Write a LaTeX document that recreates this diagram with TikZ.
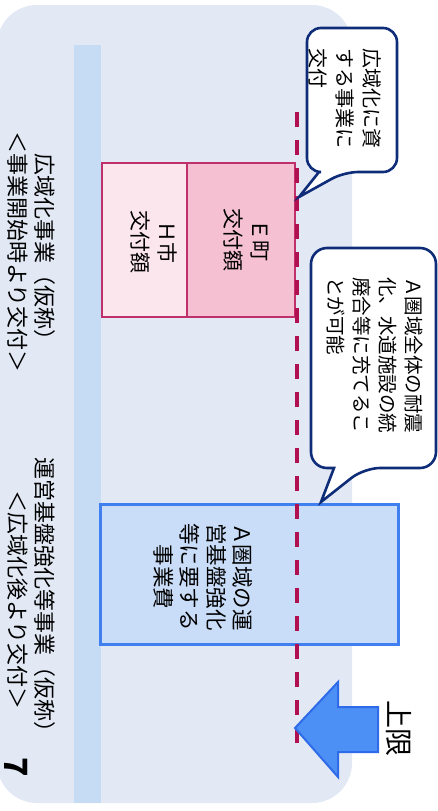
\documentclass[tikz,border=0pt]{standalone}
\usepackage{fontspec}
\setmainfont{Noto Sans CJK JP}
\definecolor{bgblue}{HTML}{E2E9F5}
\definecolor{barblue}{HTML}{C6DCF5}
\definecolor{boxblue}{HTML}{C9DDF8}
\definecolor{boxedge}{HTML}{3F7FF0}
\definecolor{arrowfill}{HTML}{4D90F5}
\definecolor{arrowedge}{HTML}{2F6BE8}
\definecolor{pinkedge}{HTML}{C0306A}
\definecolor{dashred}{HTML}{B01050}
\definecolor{hfill}{HTML}{FBE6EE}
\definecolor{efill}{HTML}{F4C0D2}
\definecolor{navy}{HTML}{0E2C78}
\tikzset{
  vtext/.style={rotate=-90, inner sep=0pt, text=black},
  callout/.style={draw=navy, line width=2.6pt, fill=white},
  pinkcell/.style={draw=pinkedge, line width=2pt},
  limitline/.style={draw=dashred, line width=4.5pt, dash pattern=on 15pt off 13pt},
}
\begin{document}
\begin{tikzpicture}[x=1pt,y=-1pt]
\useasboundingbox (0,0) rectangle (438,811);
% background panel
\path[fill=bgblue, rounded corners=40] (-3,5) rectangle (352,803);
% vertical bar
\path[fill=barblue] (74,45) rectangle (101,803);
% pink cells
\path[pinkcell, fill=hfill] (102,163) rectangle (187,317);
\path[pinkcell, fill=efill] (187,163) rectangle (295,317);
\node[vtext, align=center, font={\fontsize{21}{27}\selectfont}] (htext) at (153.5,242) {Ｈ市\\交付額};
\node[vtext, align=center, font={\fontsize{21}{27}\selectfont}] (etext) at (246,240) {Ｅ町\\交付額};
% blue box
\path[fill=boxblue, draw=boxedge, line width=3pt] (100,504) rectangle (398,644);
\node[vtext, align=center, font={\fontsize{21.5}{26.5}\selectfont}] (atext) at (203,577) {Ａ圏域の運\\営基盤強化\\等に要する\\事業費};
% dashed limit line
\coordinate (dtop) at (297,112);
\coordinate (dbot) at (297,748);
\draw[limitline] (dtop) -- (dbot);
% callout 1
\draw[callout] (307,100) [rounded corners=14] -- (307,28) -- (397,28) -- (397,172) -- (344,172) [sharp corners] -- (299,197) -- (319,172) [rounded corners=14] -- (307,172) -- cycle;
\node[vtext, align=left, font={\fontsize{20}{27}\selectfont}] (c1text) at (345,98) {広域化に資\\する事業に\\交付};
% callout 2
\draw[callout] (311,350) [rounded corners=16] -- (311,248) -- (436,248) -- (436,468) -- (364,468) [sharp corners] -- (321,502) -- (334,468) [rounded corners=16] -- (311,468) -- cycle;
\node[vtext, align=left, font={\fontsize{19.5}{26}\selectfont}] (c2text) at (375,355) {Ａ圏域全体の耐震\\化、水道施設の統\\廃合等に充てるこ\\とが可能};
% arrow
\draw[fill=arrowfill, draw=arrowedge, line width=2pt, line join=miter] (295,728) -- (338,682) -- (338,707) -- (378,707) -- (378,752) -- (338,752) -- (338,777) -- cycle;
\node[vtext, font={\fontsize{28}{30}\selectfont}] (limit) at (399,728) {上限};
% left texts
\node[vtext, align=center, font={\fontsize{22}{27}\selectfont}] (t1) at (31.5,252) {広域化事業（仮称）\\＜事業開始時より交付＞};
\node[vtext, align=center, font={\fontsize{22}{27}\selectfont}] (t2) at (31.5,600) {運営基盤強化等事業（仮称）\\＜広域化後より交付＞};
\node[vtext, font={\fontsize{32}{34}\selectfont\bfseries}] (pnum) at (16,767) {7};
\end{tikzpicture}
\end{document}
